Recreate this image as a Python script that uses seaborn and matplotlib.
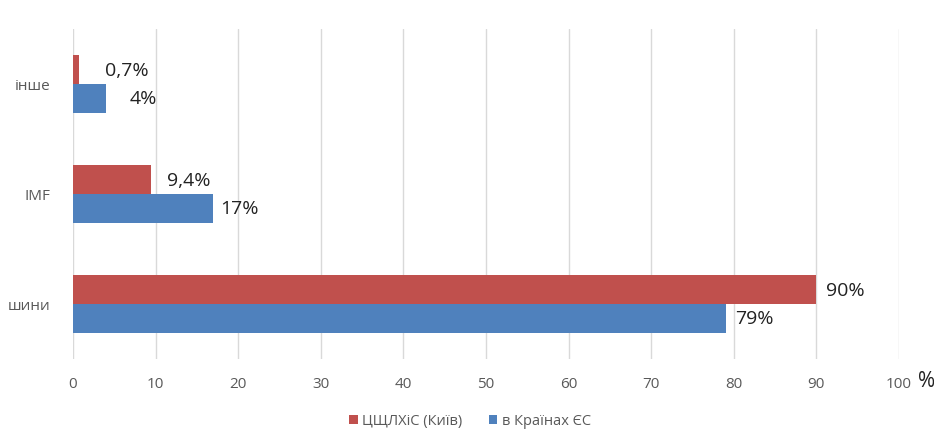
import matplotlib
matplotlib.use("Agg")
import matplotlib.pyplot as plt
import seaborn as sns
import pandas as pd
from matplotlib.patches import Patch

categories = ["інше", "IMF", "шини"]
series_names = ["ЦЩЛХіС (Київ)", "в Країнах ЄС"]
kyiv_values = [0.7, 9.4, 90]
eu_values = [4, 17, 79]
kyiv_labels = ["0,7%", "9,4%", "90%"]
eu_labels = ["4%", "17%", "79%"]
x_ticks = [0, 10, 20, 30, 40, 50, 60, 70, 80, 90, 100]

# label offsets in points (style)
kyiv_offsets = [19, 12, 7]
eu_offsets = [17, 5, 7]

colors = ["#C0504D", "#4F81BD"]

rows = []
for c, v in zip(categories, kyiv_values):
    rows.append({"cat": c, "series": series_names[0], "value": v})
for c, v in zip(categories, eu_values):
    rows.append({"cat": c, "series": series_names[1], "value": v})
df = pd.DataFrame(rows)

sns.set_theme(style="white")
plt.rcParams["font.family"] = ["Open Sans", "DejaVu Sans"]

fig = plt.figure(figsize=(9.34, 4.35), dpi=100)
ax = fig.add_axes([73/934, 1-360/435, (899-73)/934, (360-30)/435])

sns.barplot(data=df, y="cat", x="value", hue="series", order=categories,
            hue_order=series_names, palette=colors, orient="h", width=0.52,
            saturation=1, legend=False, ax=ax, edgecolor="none")

ax.set_xlim(0, 100)
ax.set_ylim(2.5, -0.5)
ax.set_xticks(x_ticks)
ax.set_xticklabels([str(t) for t in x_ticks], color="#595959", fontsize=11)
ax.tick_params(axis="y", labelcolor="#595959", labelsize=11, length=0, pad=16)
ax.tick_params(axis="x", length=0, pad=12)
ax.set_xlabel("")
ax.set_ylabel("")
for s in ax.spines.values():
    s.set_visible(False)
ax.grid(axis="x", color="#D9D9D9", linewidth=1)
ax.set_axisbelow(True)

containers = ax.containers
for cont, labels, offs in zip(containers, [kyiv_labels, eu_labels], [kyiv_offsets, eu_offsets]):
    for bar, lab, off in zip(cont, labels, offs):
        y = bar.get_y() + bar.get_height() / 2
        ax.annotate(lab, (bar.get_width(), y), xytext=(off, 0), textcoords="offset points",
                    ha="left", va="center", fontsize=14, color="#222222")

fig.text(918/934, 1-382/435, "%", fontsize=15, color="#222222", ha="left", va="center")

handles = [Patch(facecolor=c, edgecolor="none") for c in colors]
fig.legend(handles, series_names, loc="center", bbox_to_anchor=(470/934, 1-422/435),
           ncol=2, frameon=False, fontsize=10.5, handlelength=0.6, handleheight=0.6,
           handletextpad=0.3, columnspacing=1.8, labelcolor="#595959")

fig.savefig("out.png", dpi=100)
